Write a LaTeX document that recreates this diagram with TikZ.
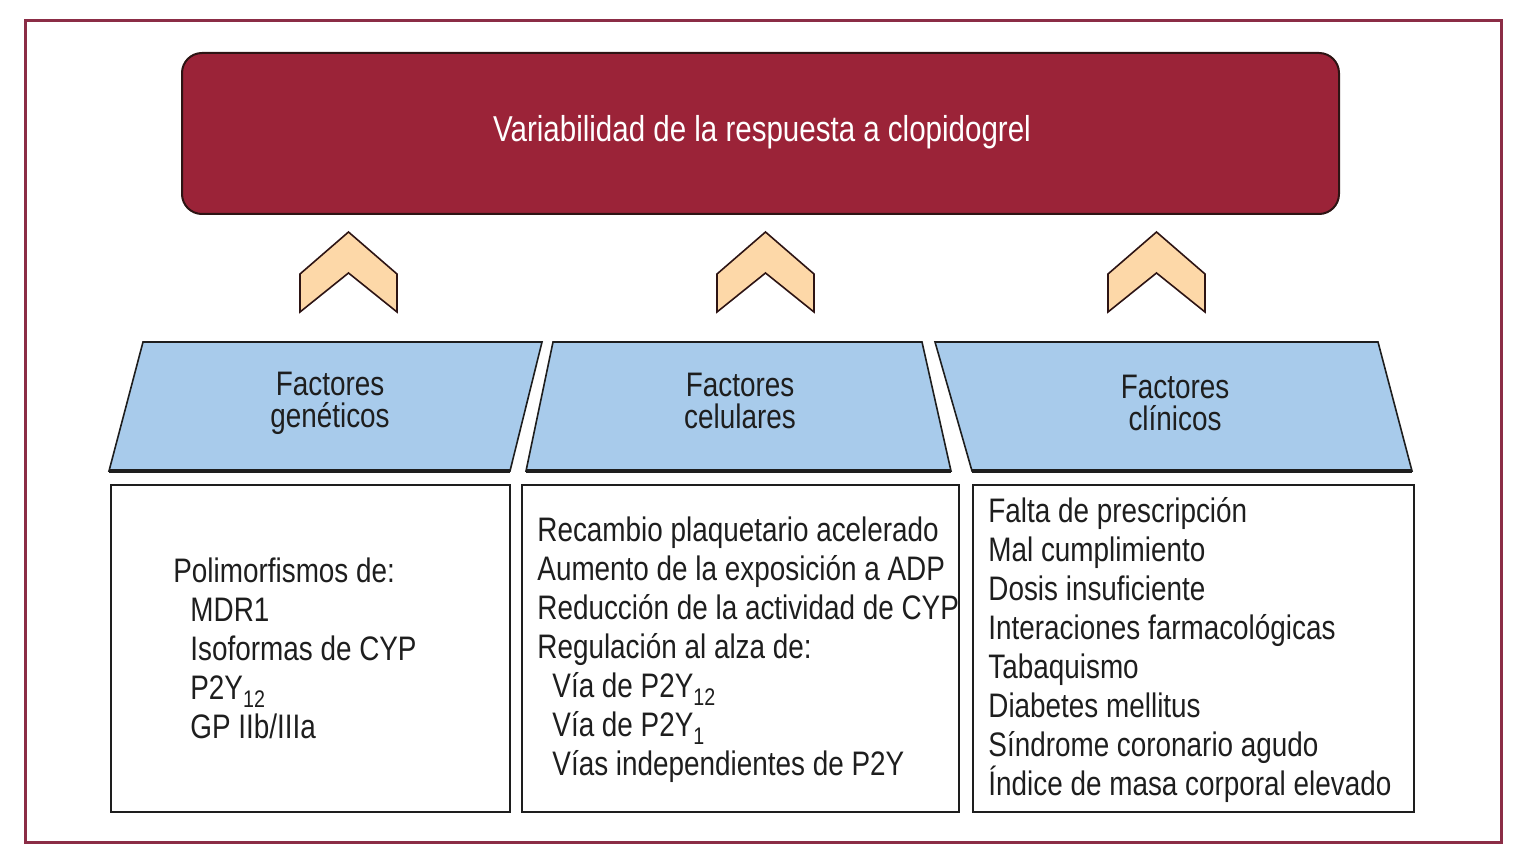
\documentclass[tikz,border=0pt]{standalone}
\usepackage{fontspec}
\setmainfont[FakeStretch=0.82]{Liberation Sans}
\definecolor{borderred}{RGB}{139,45,70}
\definecolor{titlered}{RGB}{155,35,56}
\definecolor{darkedge}{RGB}{45,20,20}
\definecolor{peach}{RGB}{253,216,168}
\definecolor{lightblue}{RGB}{168,203,235}
\definecolor{ink}{RGB}{30,30,30}
\newcommand\sbs[1]{\raisebox{-0.45ex}{\fontsize{12}{12}\selectfont #1}}
\begin{document}
\begin{tikzpicture}[x=0.5pt,y=-0.5pt,
  titlebox/.style={draw=darkedge, line width=1pt, fill=titlered, rounded corners=10pt,
    minimum width=578.5pt, minimum height=80.5pt, inner sep=0pt},
  titletext/.style={text=white, font=\fontsize{18}{20}\selectfont, inner sep=0pt},
  chevron/.style={draw=darkedge, line width=0.8pt, fill=peach, line join=miter},
  headshape/.style={draw=ink, line width=0.8pt, fill=lightblue},
  headedge/.style={draw=ink, line width=2pt},
  headtext/.style={text=ink, align=center, font=\fontsize{17}{16}\selectfont, inner sep=0pt},
  listbox/.style={draw=ink, line width=1pt, minimum height=163.5pt, inner sep=0pt},
  listtext/.style={text=ink, align=left, anchor=north west, font=\fontsize{17}{19.5}\selectfont, inner sep=0pt}
]
\useasboundingbox (0,0) rectangle (1525,866);
\draw[draw=borderred, line width=1.5pt] (25,21) rectangle (1501,842);

% title
\node[titlebox] (top) at (760.5,133.5) {};
\node[titletext] (toptext) at (762,132) {Variabilidad de la respuesta a clopidogrel};

% chevrons
\foreach \cx in {348.5,765.5,1156.5}{
  \draw[chevron] (\cx,232) -- (\cx+48.5,274) -- (\cx+48.5,312) -- (\cx,273) -- (\cx-48.5,312) -- (\cx-48.5,274) -- cycle;
}

% heading shapes
\draw[headshape] (143,342) -- (542,342) -- (510,471) -- (109,471) -- cycle;
\draw[headedge] (109,471) -- (510,471);
\draw[headshape] (553,342) -- (922,342) -- (951,471) -- (526,471) -- cycle;
\draw[headedge] (526,471) -- (951,471);
\draw[headshape] (935,342) -- (1378,342) -- (1412,471) -- (972,471) -- cycle;
\draw[headedge] (972,471) -- (1412,471);

\node[headtext] (hgen) at (330,403.5) {Factores\\genéticos};
\node[headtext] (hcel) at (740,401) {Factores\\celulares};
\node[headtext] (hcli) at (1175,403) {Factores\\clínicos};

% list boxes
\node[listbox, minimum width=199.5pt] (bgen) at (310.5,648.5) {};
\node[listbox, minimum width=218.5pt] (bcel) at (740.5,648.5) {};
\node[listbox, minimum width=220.5pt] (bcli) at (1193.5,648.5) {};

\node[listtext] (tgen) at (173,557) {Polimorfismos de:\\
\hspace*{8.5pt}MDR1\\
\hspace*{8.5pt}Isoformas de CYP\\
\hspace*{8.5pt}P2Y\sbs{12}\\
\hspace*{8.5pt}GP IIb/IIIa};

\node[listtext] (tcel) at (537,516) {Recambio plaquetario acelerado\\
Aumento de la exposición a ADP\\
Reducción de la actividad de CYP\\
Regulación al alza de:\\
\hspace*{7.5pt}Vía de P2Y\sbs{12}\\
\hspace*{7.5pt}Vía de P2Y\sbs{1}\\
\hspace*{7.5pt}Vías independientes de P2Y};

\node[listtext] (tcli) at (988,497) {Falta de prescripción\\
Mal cumplimiento\\
Dosis insuficiente\\
Interaciones farmacológicas\\
Tabaquismo\\
Diabetes mellitus\\
Síndrome coronario agudo\\
Índice de masa corporal elevado};
\end{tikzpicture}
\end{document}
